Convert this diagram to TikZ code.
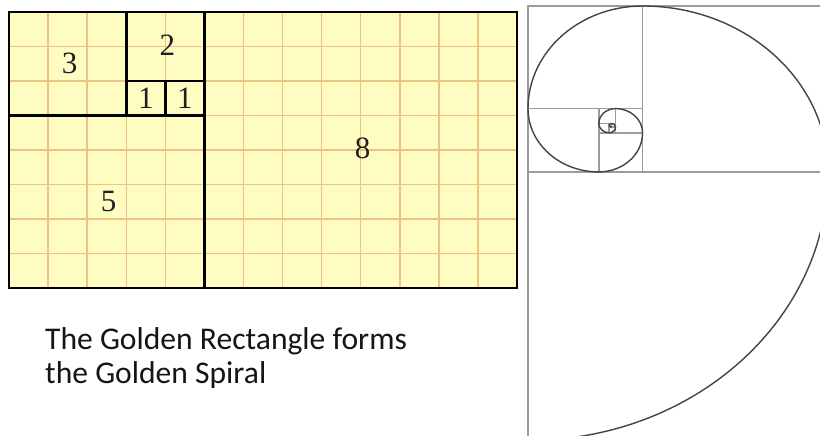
\documentclass[tikz,border=0pt]{standalone}
\usepackage{fontspec}
\newfontfamily\capfont{Carlito}
\newfontfamily\digitfont{Liberation Serif}
\definecolor{cellfill}{HTML}{FFFCC2}
\definecolor{gridorange}{HTML}{EEC384}
\definecolor{sqgray}{HTML}{9C9C9C}
\definecolor{spiralgray}{HTML}{444444}
\definecolor{captxt}{HTML}{151515}
\tikzset{
  gridline/.style={draw=gridorange, line width=1.4pt},
  thickline/.style={draw=black, line width=2.6pt, line cap=rect},
  digit/.style={font=\digitfont\fontsize{31}{31}\selectfont, text=black!88, inner sep=0pt},
  sqline/.style={draw=sqgray, line width=1.6pt},
  spiralline/.style={draw=spiralgray, line width=1.4pt},
  captext/.style={font=\capfont\fontsize{31.6}{34}\selectfont, text=captxt, align=left, inner sep=0pt}
}
\begin{document}
\begin{tikzpicture}[x=1pt,y=-1pt]
\useasboundingbox (0,0) rectangle (820,436);
\clip (0,0) rectangle (820,436);
\fill[white] (0,0) rectangle (820,436);

% ---- Fibonacci grid rectangle ----
\begin{scope}[shift={(9,12)}, x=39.08pt, y=-34.5pt]
  \fill[cellfill] (0,0) rectangle (13,8);
  \foreach \i in {1,...,12} \draw[gridline] (\i,0) -- (\i,8);
  \foreach \j in {1,...,7} \draw[gridline] (0,\j) -- (13,\j);
  \draw[thickline] (0,0) rectangle (13,8);
  \draw[thickline] (3,0) -- (3,3);
  \draw[thickline] (5,0) -- (5,8);
  \draw[thickline] (0,3) -- (5,3);
  \draw[thickline] (3,2) -- (5,2);
  \draw[thickline] (4,2) -- (4,3);
  \node[digit] (n3) at (1.55,1.5) {3};
  \node[digit] (n2) at (4.05,0.95) {2};
  \node[digit] (n1a) at (3.5,2.5) {1};
  \node[digit] (n1b) at (4.5,2.5) {1};
  \node[digit] (n5) at (2.55,5.5) {5};
  \node[digit] (n8) at (9.05,3.95) {8};
\end{scope}

% ---- caption ----
\node[captext, anchor=north west] (caption) at (45,327) {The Golden Rectangle forms\\the Golden Spiral};

% ---- golden spiral ----
\begin{scope}[shift={(528,6)}, x=1pt, y=-0.895pt]
  \path (0,485.41) coordinate (p0)
    arc[start angle=90,  end angle=0,    radius=300]     coordinate (p1)
    arc[start angle=0,   end angle=-90,  radius=185.410] coordinate (p2)
    arc[start angle=-90, end angle=-180, radius=114.590] coordinate (p3)
    arc[start angle=180, end angle=90,   radius=70.820]  coordinate (p4)
    arc[start angle=90,  end angle=0,    radius=43.769]  coordinate (p5)
    arc[start angle=0,   end angle=-90,  radius=27.051]  coordinate (p6)
    arc[start angle=-90, end angle=-180, radius=16.718]  coordinate (p7)
    arc[start angle=180, end angle=90,   radius=10.332]  coordinate (p8)
    arc[start angle=90,  end angle=0,    radius=6.386]   coordinate (p9)
    arc[start angle=0,   end angle=-90,  radius=3.947]   coordinate (p10)
    arc[start angle=-90, end angle=-180, radius=2.439]   coordinate (p11)
    arc[start angle=180, end angle=90,   radius=1.507]   coordinate (p12)
    arc[start angle=90,  end angle=0,    radius=0.932]   coordinate (p13);
  \foreach \a/\b in {p0/p1,p1/p2,p2/p3,p3/p4,p4/p5,p5/p6,p6/p7,p7/p8,p8/p9,p9/p10}
    \draw[sqline] (\a) rectangle (\b);
  \draw[spiralline] (p0)
    arc[start angle=90,  end angle=0,    radius=300]
    arc[start angle=0,   end angle=-90,  radius=185.410]
    arc[start angle=-90, end angle=-180, radius=114.590]
    arc[start angle=180, end angle=90,   radius=70.820]
    arc[start angle=90,  end angle=0,    radius=43.769]
    arc[start angle=0,   end angle=-90,  radius=27.051]
    arc[start angle=-90, end angle=-180, radius=16.718]
    arc[start angle=180, end angle=90,   radius=10.332]
    arc[start angle=90,  end angle=0,    radius=6.386]
    arc[start angle=0,   end angle=-90,  radius=3.947]
    arc[start angle=-90, end angle=-180, radius=2.439]
    arc[start angle=180, end angle=90,   radius=1.507]
    arc[start angle=90,  end angle=0,    radius=0.932];
\end{scope}
\end{tikzpicture}
\end{document}
